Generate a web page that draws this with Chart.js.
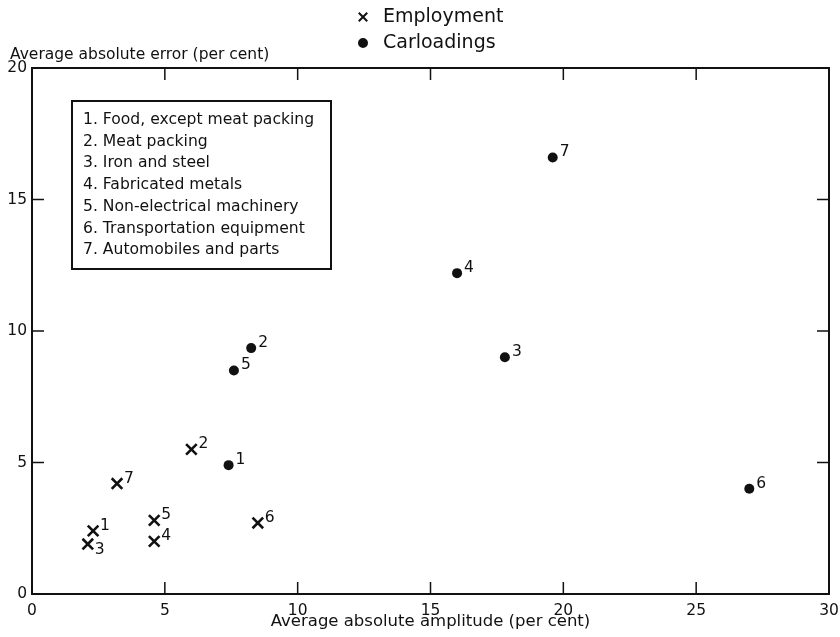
<!DOCTYPE html>
<html>
<head>
<meta charset="utf-8">
<script src="https://cdn.jsdelivr.net/npm/chart.js@4"></script>
<style>
  html, body { margin: 0; padding: 0; background: #fff; }
  #wrap { width: 840px; height: 637px; }
</style>
</head>
<body>
<div id="wrap"><canvas id="chart" width="840" height="637"></canvas></div>
<script>
// industries, numbered as in the key
const industries = [
    '1. Food, except meat packing',
    '2. Meat packing',
    '3. Iron and steel',
    '4. Fabricated metals',
    '5. Non-electrical machinery',
    '6. Transportation equipment',
    '7. Automobiles and parts'
];
const pointIds = ['1', '2', '3', '4', '5', '6', '7'];

// average absolute amplitude (x) and average absolute error (y), per cent
const employmentX = [2.3, 6.0, 2.1, 4.6, 4.6, 8.5, 3.2];
const employmentY = [2.4, 5.5, 1.9, 2.0, 2.8, 2.7, 4.2];
const carloadingsX = [7.4, 8.25, 17.8, 16.0, 7.6, 27.0, 19.6];
const carloadingsY = [4.9, 9.35, 9.0, 12.2, 8.5, 4.0, 16.6];

const periodLabel = '1951-1958';
const xTitle = 'Average absolute amplitude (per cent)';
const yTitle = 'Average absolute error (per cent)';
const xMax = 30, yMax = 20, tickStep = 5;

const FONT = '"DejaVu Sans", sans-serif';
const INK = '#111';

const toPoints = (xs, ys) => xs.map((x, i) => ({ x: x, y: ys[i], id: pointIds[i] }));

// ids whose number sits below the marker instead of above it
const labelsBelow = { Employment: ['3'] };

const framePlugin = {
    id: 'frame',
    afterDraw(chart) {
        const ctx = chart.ctx;
        const a = chart.chartArea;
        const xs = chart.scales.x, ys = chart.scales.y;
        ctx.save();
        ctx.strokeStyle = INK;
        ctx.lineWidth = 2;
        ctx.strokeRect(a.left, a.top, a.right - a.left, a.bottom - a.top);

        // inward ticks on all four sides
        const len = 12;
        ctx.lineWidth = 1.5;
        ctx.beginPath();
        xs.ticks.forEach(t => {
            const px = xs.getPixelForValue(t.value);
            ctx.moveTo(px, a.bottom); ctx.lineTo(px, a.bottom - len);
            ctx.moveTo(px, a.top); ctx.lineTo(px, a.top + len);
        });
        ys.ticks.forEach(t => {
            const py = ys.getPixelForValue(t.value);
            ctx.moveTo(a.left, py); ctx.lineTo(a.left + len, py);
            ctx.moveTo(a.right, py); ctx.lineTo(a.right - len, py);
        });
        ctx.stroke();

        // y axis title, written horizontally above the axis
        ctx.fillStyle = INK;
        ctx.font = '15.5px ' + FONT;
        ctx.textAlign = 'left';
        ctx.textBaseline = 'middle';
        ctx.fillText(yTitle, 10, a.top - 13);

        // key box
        const bx = a.left + 40, by = a.top + 33, bw = 259, bh = 168;
        ctx.lineWidth = 2;
        ctx.strokeRect(bx, by, bw, bh);
        ctx.font = '15.6px ' + FONT;
        industries.forEach((s, i) => ctx.fillText(s, bx + 11, by + 19 + i * 21.7));

        // period (cut off by the page edge) and marker key at the top
        const cx = 363;
        ctx.textAlign = 'center';
        ctx.font = '19px ' + FONT;
        ctx.fillText(periodLabel, 428, -5.5);
        ctx.textAlign = 'left';
        chart.data.datasets.forEach((ds, i) => {
            const y = 17 + i * 26;
            Chart.helpers.drawPoint(ctx, {
                pointStyle: ds.pointStyle, radius: ds.pointStyle === 'circle' ? 4 : 6,
                borderWidth: 2.2
            }, cx, y);
            ctx.fillText(ds.label, cx + 20, y);
        });
        ctx.restore();
    },
    afterDatasetsDraw(chart) {
        const ctx = chart.ctx;
        ctx.save();
        ctx.fillStyle = INK;
        ctx.font = '15.5px ' + FONT;
        ctx.textAlign = 'left';
        ctx.textBaseline = 'middle';
        chart.data.datasets.forEach((ds, di) => {
            const meta = chart.getDatasetMeta(di);
            const below = labelsBelow[ds.label] || [];
            meta.data.forEach((el, i) => {
                const id = ds.data[i].id;
                const dy = below.includes(id) ? 6 : -5;
                ctx.fillText(id, el.x + 7, el.y + dy);
            });
        });
        ctx.restore();
    }
};

const ctx = document.getElementById('chart').getContext('2d');
new Chart(ctx, {
    type: 'scatter',
    data: {
        datasets: [
            {
                label: 'Employment',
                data: toPoints(employmentX, employmentY),
                pointStyle: 'crossRot',
                pointRadius: 7.5,
                borderColor: INK,
                backgroundColor: INK,
                pointBorderWidth: 2.6
            },
            {
                label: 'Carloadings',
                data: toPoints(carloadingsX, carloadingsY),
                pointStyle: 'circle',
                pointRadius: 5,
                borderColor: INK,
                backgroundColor: INK,
                pointBorderWidth: 0
            }
        ]
    },
    options: {
        responsive: false,
        animation: false,
        layout: { padding: { top: 68, right: 11, left: 0, bottom: 0 } },
        plugins: {
            legend: { display: false },
            tooltip: { enabled: false }
        },
        scales: {
            x: {
                type: 'linear',
                min: 0, max: xMax,
                grid: { display: false, drawTicks: false },
                border: { display: false },
                ticks: { stepSize: tickStep, color: INK, padding: 8, font: { family: FONT, size: 15.5 } },
                title: { display: true, text: xTitle, color: INK, padding: { top: 0, bottom: 5 }, font: { family: FONT, size: 16.5 } },
                afterFit: (s) => { s.height = 43; s.paddingLeft = 0; s.paddingRight = 0; }
            },
            y: {
                min: 0, max: yMax,
                grid: { display: false, drawTicks: false },
                border: { display: false },
                ticks: { stepSize: tickStep, color: INK, padding: 5, font: { family: FONT, size: 15.5 } },
                afterFit: (s) => { s.width = 32; s.paddingTop = 0; s.paddingBottom = 0; }
            }
        }
    },
    plugins: [framePlugin]
});
</script>
</body>
</html>
